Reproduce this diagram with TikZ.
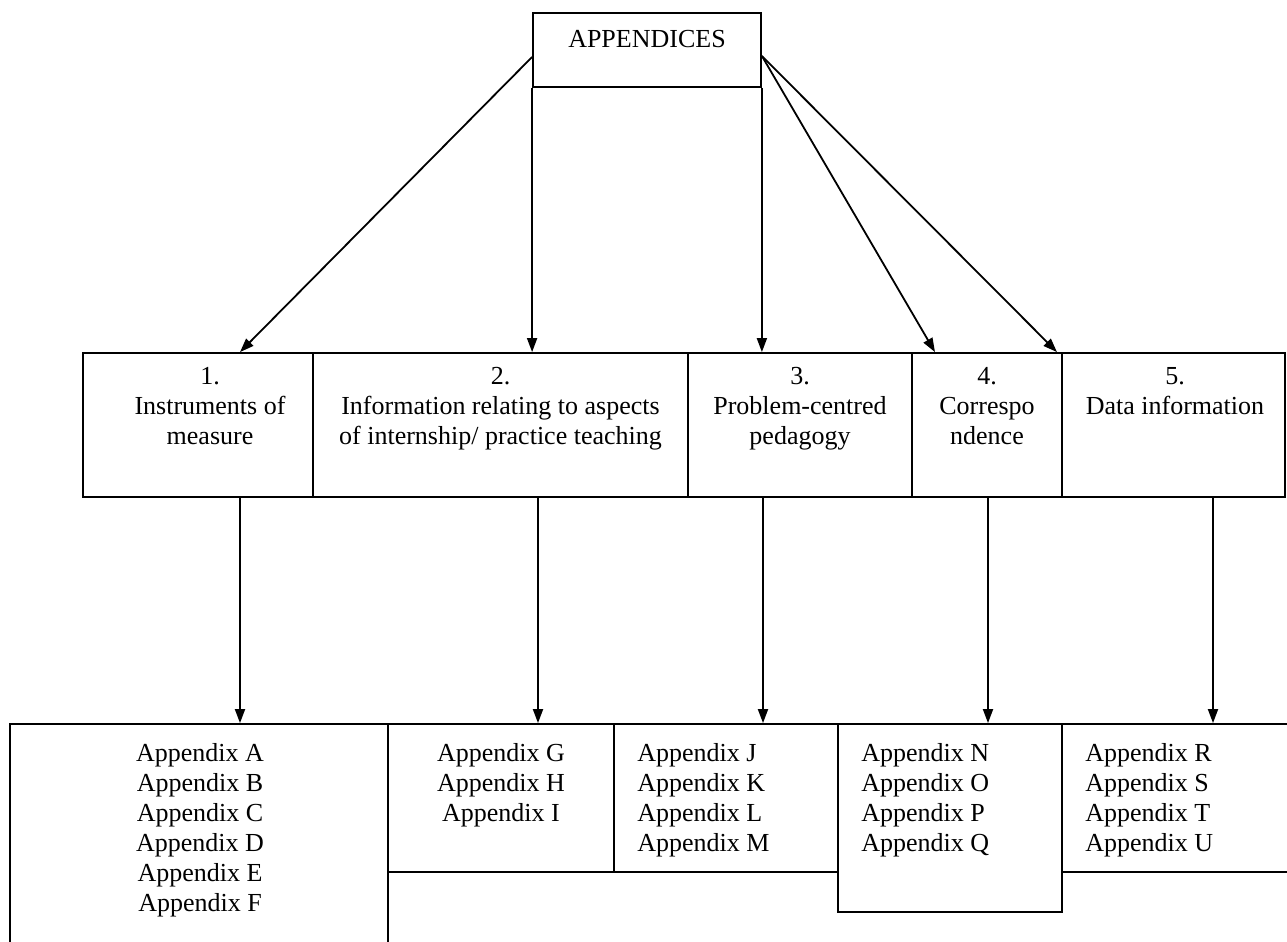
\documentclass[tikz,border=0pt]{standalone}
\usepackage{fontspec}
\setmainfont{Liberation Serif}
\usetikzlibrary{arrows.meta,calc}
\begin{document}
\begin{tikzpicture}[x=0.5pt,y=-0.5pt,
  box/.style={draw,line width=0.9pt,rectangle,inner sep=0pt},
  txt/.style={inner sep=0pt,font=\fontsize{13}{15}\selectfont,align=center},
  lst/.style={inner sep=0pt,font=\fontsize{13}{15}\selectfont,align=left,anchor=north west},
  arr/.style={line width=0.9pt,-{Triangle[length=7pt,width=5pt]}}]
\useasboundingbox (0,0) rectangle (1287,942);

% root
\node[box,minimum width=114pt,minimum height=37pt] (top) at (647,50) {};
\node[txt,anchor=north] (ttop) at (647,30) {APPENDICES};

% categories
\node[box,minimum width=115pt,minimum height=72pt] (b1) at (198,425) {};
\node[box,minimum width=187.5pt,minimum height=72pt] (b2) at (500.5,425) {};
\node[box,minimum width=112pt,minimum height=72pt] (b3) at (800,425) {};
\node[box,minimum width=75pt,minimum height=72pt] (b4) at (987,425) {};
\node[box,minimum width=111.5pt,minimum height=72pt] (b5) at (1173.5,425) {};

\node[txt,anchor=north] (t1) at (210,367) {1.\\Instruments of\\measure};
\node[txt,anchor=north] (t2) at (500.5,367) {2.\\Information relating to aspects\\of internship/ practice teaching};
\node[txt,anchor=north] (t3) at (800,367) {3.\\Problem-centred\\pedagogy};
\node[txt,anchor=north] (t4) at (987,367) {4.\\Correspo\\ndence};
\node[txt,anchor=north] (t5) at (1175,367) {5.\\Data information};

% appendix lists
\node[box,minimum width=189pt,minimum height=118pt] (A) at (199,842) {};
\node[box,minimum width=113pt,minimum height=74pt] (G) at (501,798) {};
\node[box,minimum width=112pt,minimum height=74pt] (J) at (726,798) {};
\node[box,minimum width=112pt,minimum height=94pt] (N) at (950,818) {};
\node[box,minimum width=119pt,minimum height=74pt] (R) at (1181,798) {};

\node[txt,anchor=north] (lA) at (200,743) {Appendix A\\Appendix B\\Appendix C\\Appendix D\\Appendix E\\Appendix F};
\node[txt,anchor=north] (lG) at (501,743) {Appendix G\\Appendix H\\Appendix I};
\node[lst] (lJ) at (637,743) {Appendix J\\Appendix K\\Appendix L\\Appendix M};
\node[lst] (lN) at (861,743) {Appendix N\\Appendix O\\Appendix P\\Appendix Q};
\node[lst] (lR) at (1085,743) {Appendix R\\Appendix S\\Appendix T\\Appendix U};

% root to categories
\draw[arr] ([yshift=-3.5pt]top.west) -- ([xshift=21pt]b1.north);
\draw[arr] (top.south west) -- (top.south west |- b2.north);
\draw[arr] (top.south east) -- (top.south east |- b3.north);
\draw[arr] ([yshift=-3pt]top.east) -- ([xshift=-26pt]b4.north);
\draw[arr] ([yshift=-3pt]top.east) -- ([xshift=-58.25pt]b5.north);

% categories to appendix lists
\draw[arr] ([xshift=21pt]b1.south) -- ([xshift=21pt]b1.south |- A.north);
\draw[arr] ([xshift=18.75pt]b2.south) -- ([xshift=18.75pt]b2.south |- G.north);
\draw[arr] ([xshift=-18.5pt]b3.south) -- ([xshift=-18.5pt]b3.south |- J.north);
\draw[arr] ([xshift=0.5pt]b4.south) -- ([xshift=0.5pt]b4.south |- N.north);
\draw[arr] ([xshift=19.75pt]b5.south) -- ([xshift=19.75pt]b5.south |- R.north);
\end{tikzpicture}
\end{document}
